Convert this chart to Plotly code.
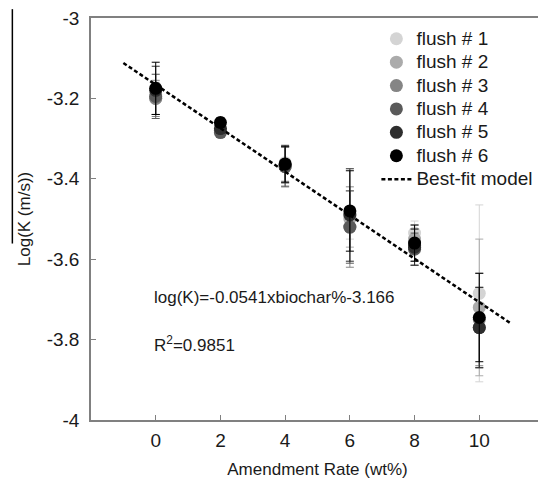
import plotly.graph_objects as go

# ---- data ----
amendment_rate = [0, 2, 4, 6, 8, 10]
flush_names = ["flush # 1", "flush # 2", "flush # 3", "flush # 4", "flush # 5", "flush # 6"]
flush1 = [-3.190, -3.280, -3.360, -3.490, -3.535, -3.685]
flush2 = [-3.200, -3.280, -3.365, -3.500, -3.550, -3.720]
flush3 = [-3.200, -3.280, -3.370, -3.520, -3.565, -3.750]
flush4 = [-3.195, -3.285, -3.370, -3.520, -3.575, -3.770]
flush5 = [-3.180, -3.275, -3.365, -3.490, -3.570, -3.770]
flush6 = [-3.175, -3.260, -3.363, -3.480, -3.560, -3.745]
err1 = [0.050, 0.010, 0.045, 0.060, 0.030, 0.220]
err2 = [0.040, 0.010, 0.045, 0.070, 0.035, 0.170]
err3 = [0.045, 0.010, 0.048, 0.100, 0.040, 0.115]
err4 = [0.055, 0.012, 0.050, 0.090, 0.040, 0.100]
err5 = [0.060, 0.012, 0.045, 0.115, 0.045, 0.100]
err6 = [0.065, 0.012, 0.045, 0.100, 0.045, 0.110]
flush_colors = ["#d4d4d4", "#ababab", "#858585", "#5a5a5a", "#2e2e2e", "#000000"]

fit_slope = -0.0541
fit_intercept = -3.166
fit_x = [-1, 11]
fit_name = "Best-fit model"
fit_label = "log(K)=-0.0541xbiochar%-3.166"
r2_label = "R<sup>2</sup>=0.9851"

x_tick_vals = [0, 2, 4, 6, 8, 10]
x_tick_text = ["0", "2", "4", "6", "8", "10"]
y_tick_vals = [-4, -3.8, -3.6, -3.4, -3.2, -3]
y_tick_text = ["-4", "-3.8", "-3.6", "-3.4", "-3.2", "-3"]

FONT = "Liberation Sans, Arial, sans-serif"
TXT = "#1a1a1a"


def legend_text(s):
    return '<span style="font-size:19px">' + s + "</span>"


fig = go.Figure()
series = [flush1, flush2, flush3, flush4, flush5, flush6]
errs = [err1, err2, err3, err4, err5, err6]
for name, ys, es, col in zip(flush_names, series, errs, flush_colors):
    fig.add_trace(go.Scatter(
        x=amendment_rate, y=ys, mode="markers", name=legend_text(name),
        marker=dict(size=13, color=col, line=dict(width=0)),
        error_y=dict(type="data", array=es, visible=True, color=col,
                     thickness=1, width=4),
    ))

fit_y = [fit_slope * xv + fit_intercept for xv in fit_x]
fig.add_trace(go.Scatter(
    x=fit_x, y=fit_y, mode="lines", name=legend_text(fit_name),
    line=dict(color="black", width=2.5, dash="4px,2.5px"),
))

axis_common = dict(
    showline=True, linecolor="#808080", linewidth=1.5, mirror=True,
    ticks="inside", ticklen=5, tickcolor="#808080", tickwidth=1,
    showgrid=False, zeroline=False, ticklabeloverflow="allow",
    tickfont=dict(family=FONT, size=19, color=TXT),
)

fig.update_layout(
    width=538, height=473,
    margin=dict(l=83, r=0, t=9, b=61),
    paper_bgcolor="white", plot_bgcolor="white",
    font=dict(family=FONT, size=17, color=TXT),
    xaxis=dict(range=[-2, 12], tickvals=x_tick_vals, ticktext=x_tick_text,
               ticklabelstandoff=2,
               title=dict(text="Amendment Rate (wt%)", standoff=14,
                          font=dict(family=FONT, size=17, color=TXT)),
               **axis_common),
    yaxis=dict(range=[-4, -3], tickvals=y_tick_vals, ticktext=y_tick_text,
               ticklabelstandoff=6,
               title=dict(text="Log(K (m/s))", standoff=12,
                          font=dict(family=FONT, size=17, color=TXT)),
               **axis_common),
    legend=dict(x=0.63, y=0.99, xanchor="left", yanchor="top",
                bgcolor="rgba(255,255,255,0)", borderwidth=0,
                font=dict(family=FONT, size=15.7, color=TXT), tracegroupgap=0),
    showlegend=True,
)

fig.add_annotation(x=-0.1, y=-3.695, xref="x", yref="y", text=fit_label,
                   showarrow=False, xanchor="left", yanchor="middle",
                   font=dict(family=FONT, size=17, color=TXT))
fig.add_annotation(x=-0.1, y=-3.811, xref="x", yref="y", text=r2_label,
                   showarrow=False, xanchor="left", yanchor="middle",
                   font=dict(family=FONT, size=17, color=TXT))

# stray vertical rule at far left of the original figure
fig.add_shape(type="line", xref="paper", yref="paper",
              x0=-0.1736, x1=-0.1736, y0=1.022, y1=0.439,
              line=dict(color="black", width=1.5))

fig.write_html("out.html")
